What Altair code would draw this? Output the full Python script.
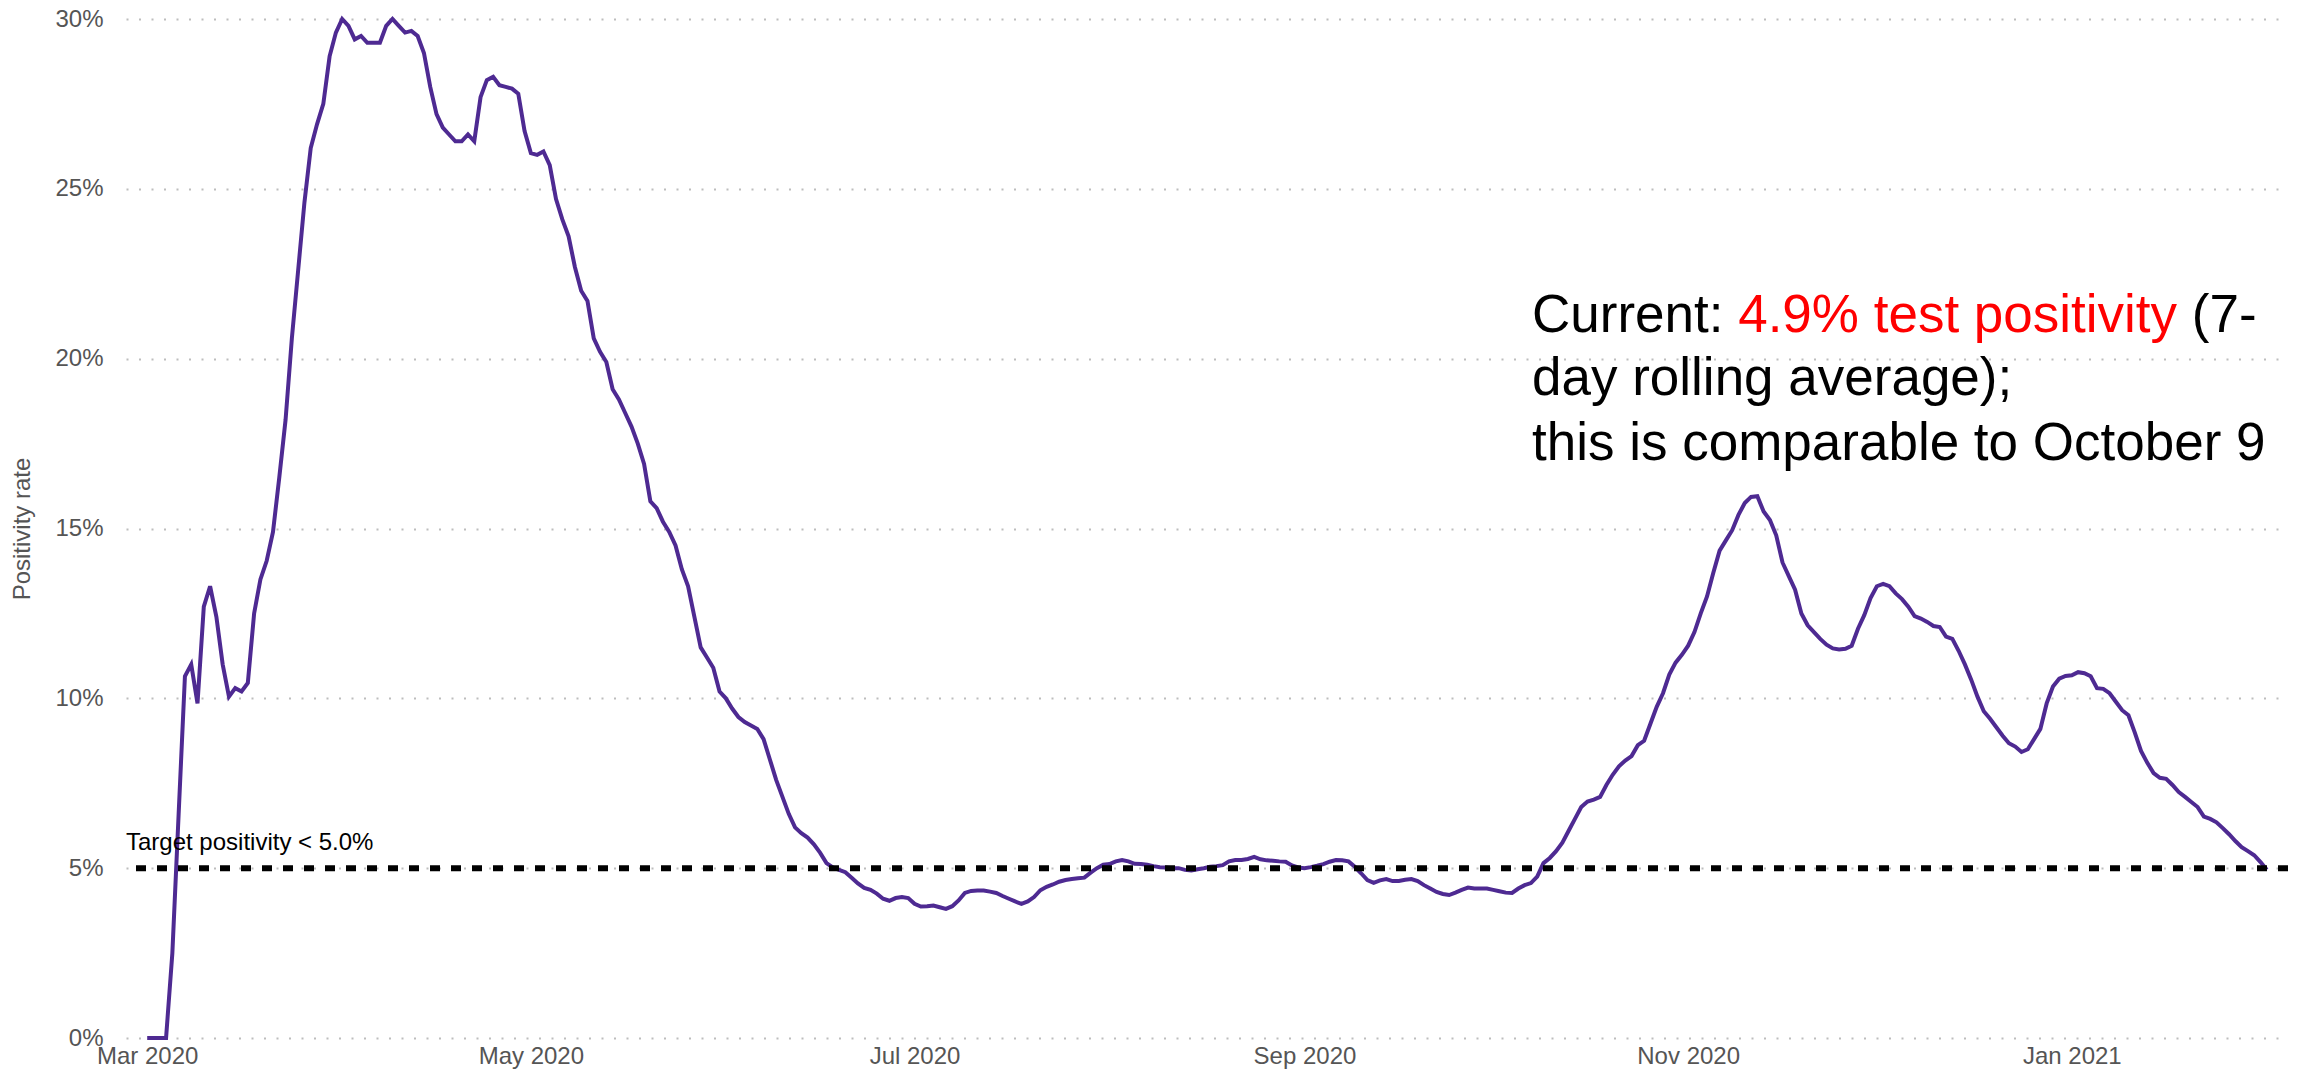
import altair as alt
import pandas as pd

# ---- data (daily 7-day rolling test positivity, %) ----
start_date = "2020-03-01"
positivity = [
    0, 0, 0, 0, 2.5, 6.6, 10.65, 11.0, 9.85, 12.7,
    13.3, 12.4, 11.0, 10.05, 10.3, 10.2, 10.45, 12.5, 13.5, 14.05,
    14.9, 16.5, 18.2, 20.6, 22.6, 24.6, 26.2, 26.9, 27.5, 28.9,
    29.6, 30.0, 29.8, 29.4, 29.5, 29.3, 29.3, 29.3, 29.8, 30.0,
    29.8, 29.6, 29.65, 29.5, 29.0, 28.0, 27.2, 26.8, 26.6, 26.4,
    26.4, 26.6, 26.4, 27.7, 28.2, 28.3, 28.05, 28.0, 27.95, 27.8,
    26.7, 26.05, 26.0, 26.1, 25.7, 24.7, 24.1, 23.6, 22.7, 22.0,
    21.7, 20.6, 20.2, 19.9, 19.1, 18.8, 18.4, 18.0, 17.5, 16.9,
    15.8, 15.6, 15.2, 14.9, 14.5, 13.8, 13.3, 12.4, 11.5, 11.2,
    10.9, 10.2, 10.0, 9.7, 9.45, 9.3, 9.2, 9.1, 8.8, 8.2,
    7.6, 7.1, 6.6, 6.2, 6.03, 5.9, 5.7, 5.45, 5.15, 5.02,
    4.95, 4.88, 4.72, 4.55, 4.42, 4.36, 4.25, 4.1, 4.04, 4.12,
    4.15, 4.12, 3.95, 3.87, 3.88, 3.9, 3.85, 3.8, 3.88, 4.05,
    4.27, 4.33, 4.34, 4.34, 4.31, 4.27, 4.18, 4.1, 4.02, 3.95,
    4.02, 4.15, 4.35, 4.45, 4.52, 4.6, 4.65, 4.68, 4.7, 4.72,
    4.87, 5.0, 5.1, 5.12, 5.2, 5.24, 5.2, 5.13, 5.12, 5.1,
    5.06, 5.03, 5.02, 5.0, 5.0, 4.95, 4.93, 4.97, 5.0, 5.04,
    5.06, 5.09, 5.2, 5.24, 5.24, 5.27, 5.33, 5.26, 5.23, 5.22,
    5.2, 5.19, 5.08, 5.02, 5.0, 5.03, 5.07, 5.12, 5.19, 5.24,
    5.23, 5.2, 5.04, 4.85, 4.65, 4.57, 4.64, 4.68, 4.62, 4.62,
    4.66, 4.68, 4.62, 4.5, 4.4, 4.3, 4.24, 4.21, 4.28, 4.36,
    4.43, 4.4, 4.4, 4.4, 4.36, 4.32, 4.28, 4.27, 4.4, 4.5,
    4.56, 4.75, 5.15, 5.3, 5.5, 5.75, 6.1, 6.45, 6.8, 6.96,
    7.02, 7.1, 7.45, 7.75, 8.0, 8.17, 8.3, 8.62, 8.75, 9.25,
    9.75, 10.15, 10.7, 11.05, 11.28, 11.55, 11.95, 12.5, 13.0, 13.7,
    14.35, 14.65, 14.95, 15.4, 15.75, 15.93, 15.95, 15.5, 15.25, 14.8,
    14.0, 13.6, 13.2, 12.5, 12.15, 11.95, 11.75, 11.58, 11.47, 11.44,
    11.46, 11.55, 12.05, 12.45, 12.95, 13.3, 13.37, 13.3, 13.09, 12.92,
    12.7, 12.42, 12.35, 12.25, 12.13, 12.1, 11.82, 11.75, 11.4, 11.0,
    10.55, 10.05, 9.62, 9.4, 9.15, 8.9, 8.68, 8.58, 8.42, 8.5,
    8.8, 9.1, 9.85, 10.35, 10.58, 10.66, 10.68, 10.77, 10.74, 10.65,
    10.3, 10.28, 10.15, 9.9, 9.65, 9.5, 9.0, 8.45, 8.1, 7.8,
    7.66, 7.63, 7.45, 7.24, 7.1, 6.95, 6.8, 6.52, 6.45, 6.35,
    6.18, 6.0, 5.8, 5.62, 5.5, 5.38, 5.18, 4.95,
]
y_ticks = [0, 5, 10, 15, 20, 25, 30]
x_tick_dates = [(2020, 3), (2020, 5), (2020, 7), (2020, 9), (2020, 11), (2021, 1)]
target = 5.0
target_label = "Target positivity < 5.0%"
note_a = "Current: "
note_red = "4.9% test positivity"
note_b = "(7-"
note_line2 = "day rolling average);"
note_line3 = "this is comparable to October 9"

df = pd.DataFrame({
    "date": pd.date_range(start_date, periods=len(positivity), freq="D"),
    "rate": positivity,
})
one = pd.DataFrame({"k": [0]})

W, H = 2162, 1019
FONT = "Liberation Sans"
GREY = "#555555"
NOTE_SIZE = 53

x_scale = alt.Scale(
    domain=[alt.DateTime(year=2020, month=2, date=26, hours=15, minutes=7),
            alt.DateTime(year=2021, month=2, date=4, hours=8, minutes=53)],
    nice=False,
)
y_scale = alt.Scale(domain=[0, 30], nice=False, zero=True)

x_axis = alt.Axis(
    values=[alt.DateTime(year=y, month=m, date=1) for y, m in x_tick_dates],
    format="%b %Y", labelFont=FONT, labelFontSize=24, labelColor=GREY,
    labelPadding=25, labelBaseline="alphabetic", labelAlign="center",
    labelFlush=False, labelOverlap=False,
    ticks=False, tickSize=0, domain=False, grid=False, title=None,
)
y_axis = alt.Axis(
    values=y_ticks, labelExpr="datum.value + '%'",
    labelFont=FONT, labelFontSize=24, labelColor=GREY, labelPadding=23,
    labelBaseline="middle",
    ticks=False, tickSize=0, domain=False,
    grid=True, gridColor="#BDBDBD", gridDash=[2, 10.5], gridWidth=2,
    title="Positivity rate", titleFont=FONT, titleFontSize=24,
    titleColor=GREY, titleFontWeight="normal",
    titleX=-97, titleY=H / 2, titleAngle=270, titleBaseline="alphabetic",
    titleAlign="center",
)

line = alt.Chart(df).mark_line(color="#4E2A92", strokeWidth=4).encode(
    x=alt.X("date:T", scale=x_scale, axis=x_axis),
    y=alt.Y("rate:Q", scale=y_scale, axis=y_axis),
)

rule = alt.Chart(one).mark_rule(color="black", strokeWidth=6, strokeDash=[10, 11]).encode(
    y=alt.datum(target)
)

target_text = alt.Chart(one).mark_text(
    text=target_label, align="left", baseline="alphabetic", font=FONT,
    fontSize=24, color="black", dy=-18,
).encode(x=alt.value(0), y=alt.datum(target))


def note(text, color, dx, y):
    return alt.Chart(one).mark_text(
        text=text, align="left", baseline="alphabetic", font=FONT,
        fontSize=NOTE_SIZE, color=color, dx=dx,
    ).encode(x=alt.value(1406), y=alt.value(y))


w_a = 3.89 * NOTE_SIZE
w_red = 8.281 * NOTE_SIZE
notes = [
    note(note_a, "black", 0, 313),
    note(note_red, "#FF0000", w_a, 313),
    note(note_b, "black", w_a + w_red + 0.278 * NOTE_SIZE, 313),
    note(note_line2, "black", 0, 376),
    note(note_line3, "black", 0, 441),
]

chart = alt.layer(line, rule, target_text, *notes).properties(
    width=W, height=H,
    padding={"left": 118, "top": 11, "right": 4, "bottom": 34},
    autosize=alt.AutoSizeParams(type="none"),
).configure_view(stroke=None)

chart.save("out.html", embed_options={"renderer": "svg", "actions": False})
